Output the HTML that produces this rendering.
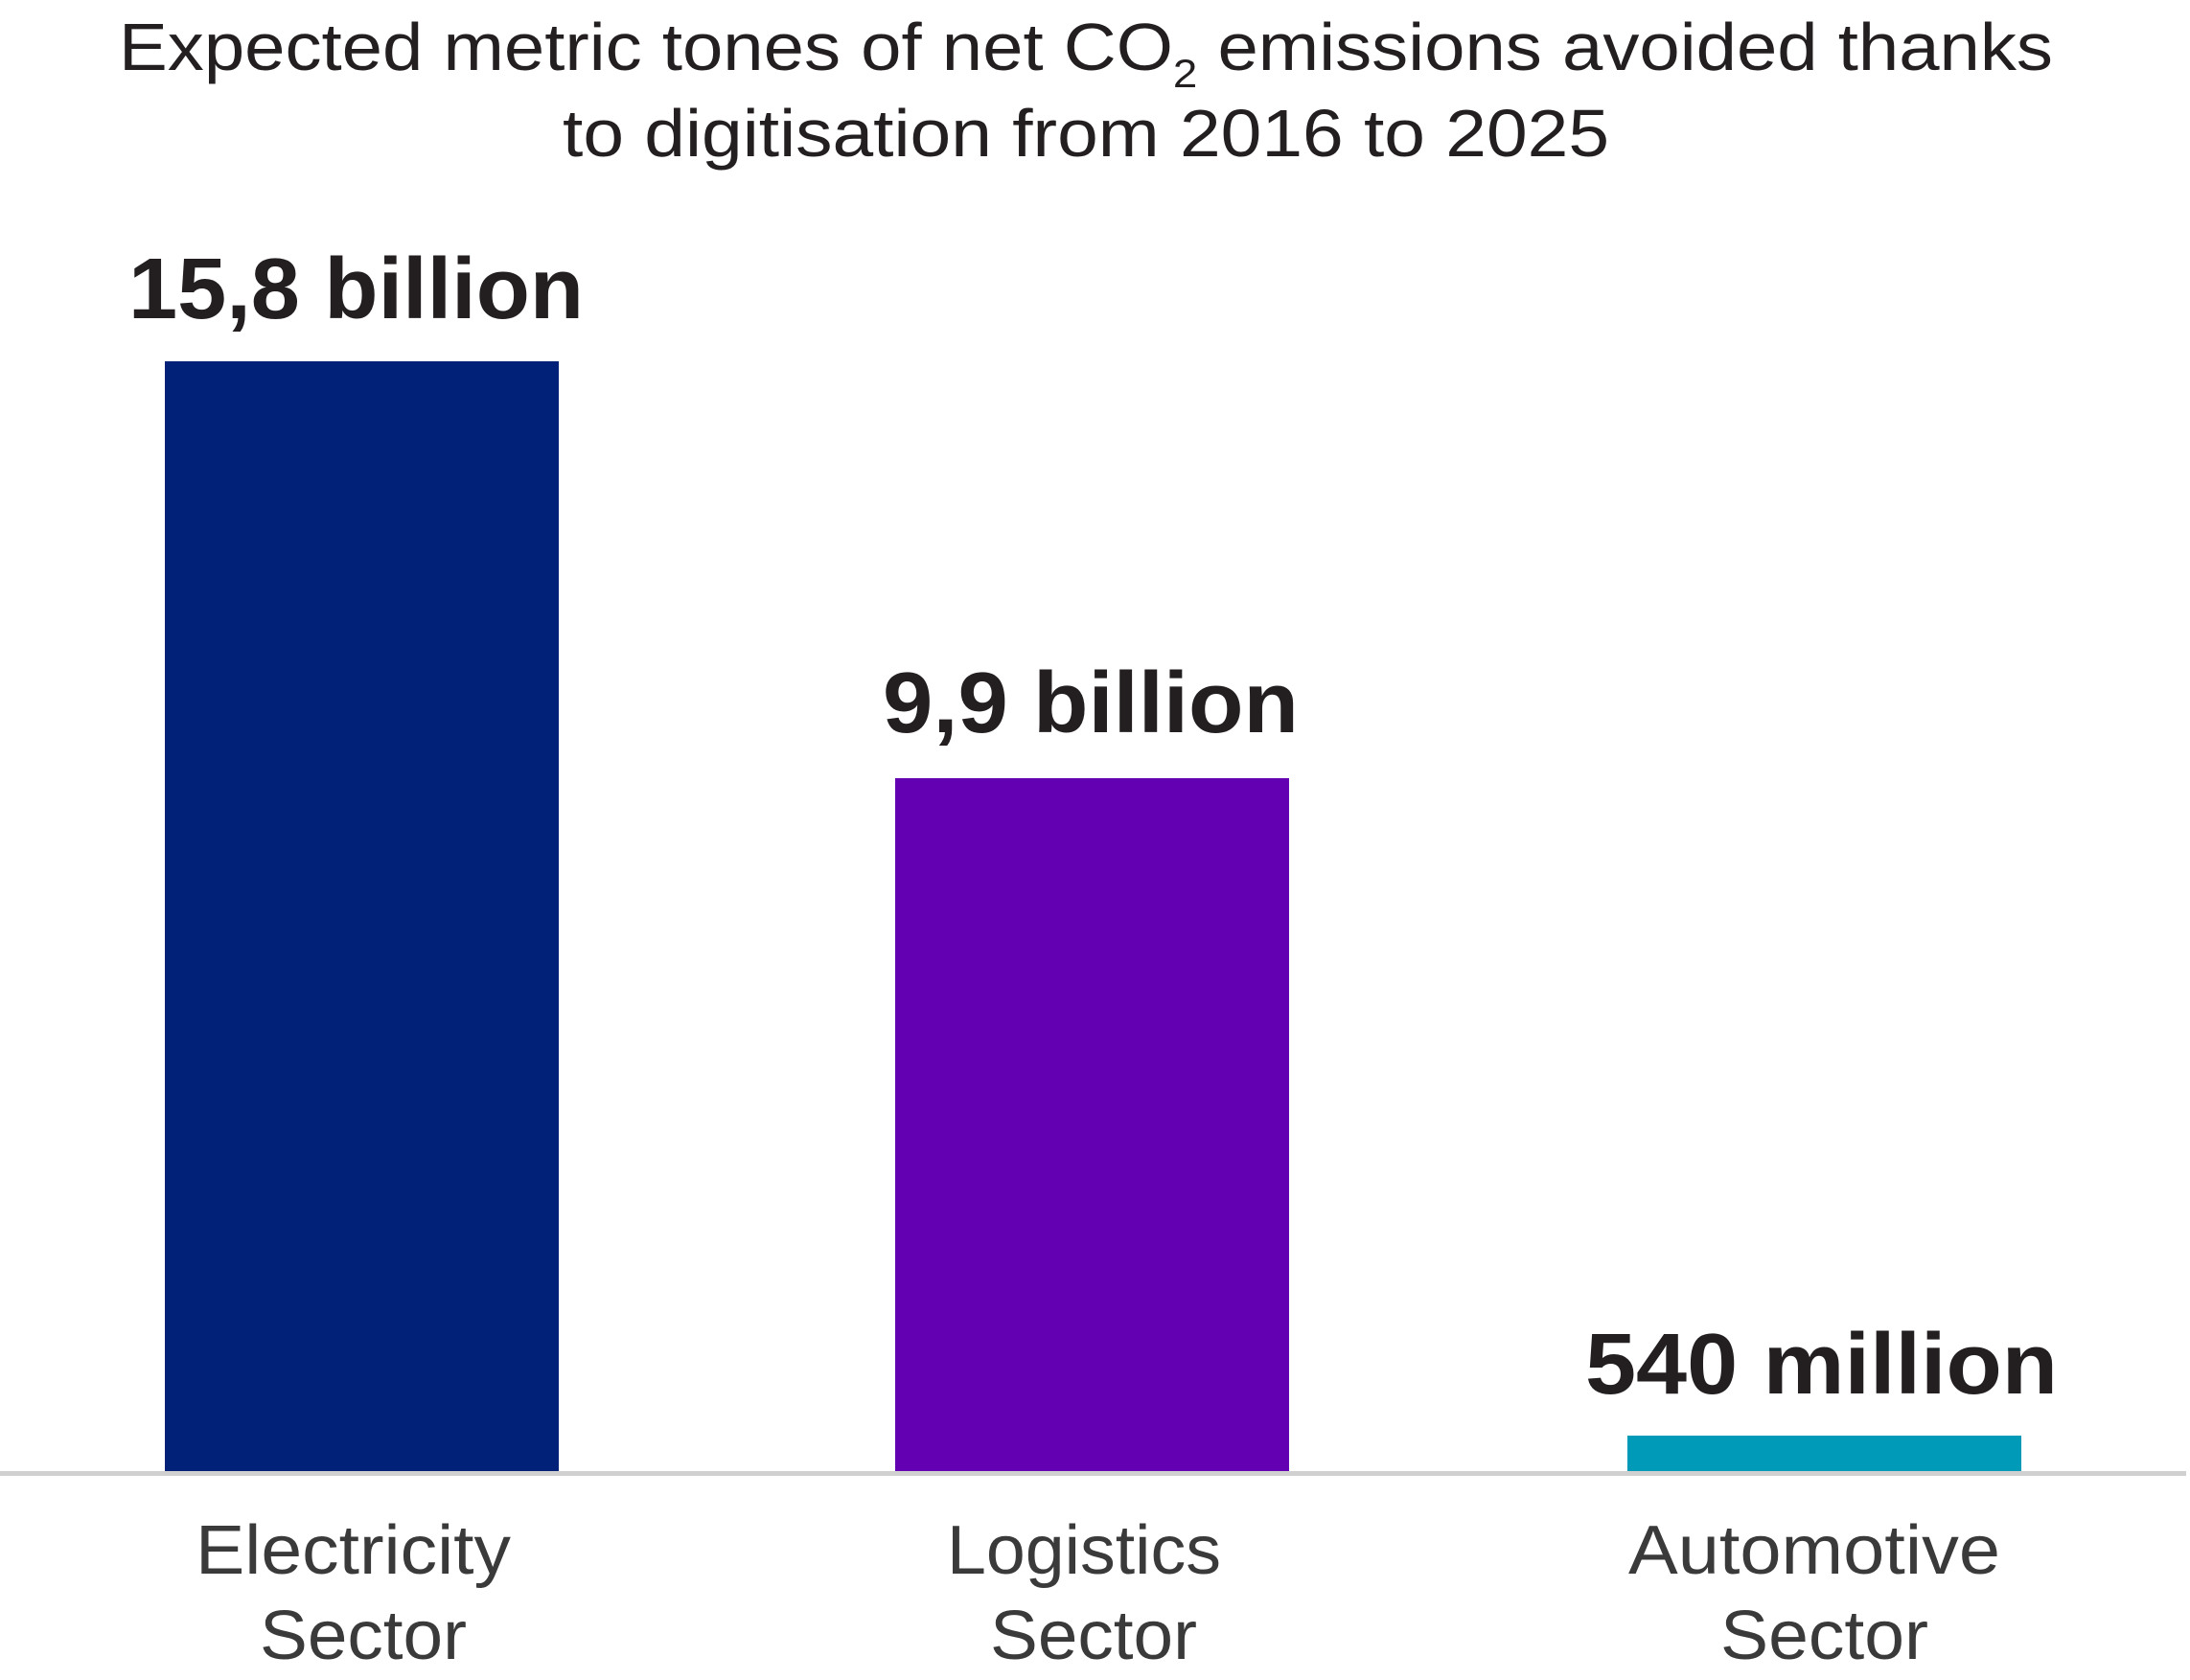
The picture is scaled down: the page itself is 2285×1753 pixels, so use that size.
<!DOCTYPE html>
<html><head><meta charset="utf-8"><style>html,body{margin:0;padding:0;background:#fff}svg{display:block}</style></head>
<body>
<svg width="2285" height="1753" viewBox="0 0 2285 1753" xmlns="http://www.w3.org/2000/svg" font-family="Liberation Sans, sans-serif">
<text x="124" y="73" font-size="70" fill="#231f20" textLength="2018" lengthAdjust="spacingAndGlyphs">Expected metric tones of net CO<tspan font-size="42" dy="18">2</tspan><tspan dy="-18"> emissions avoided thanks</tspan></text>
<text x="587" y="163" font-size="70" fill="#231f20" textLength="1092" lengthAdjust="spacingAndGlyphs">to digitisation from 2016 to 2025</text>
<text x="134" y="332" font-size="90" font-weight="bold" fill="#231f20" textLength="475" lengthAdjust="spacingAndGlyphs">15,8 billion</text>
<text x="921" y="764" font-size="90" font-weight="bold" fill="#231f20" textLength="434" lengthAdjust="spacingAndGlyphs">9,9 billion</text>
<text x="1654" y="1454" font-size="90" font-weight="bold" fill="#231f20" textLength="493" lengthAdjust="spacingAndGlyphs">540 million</text>
<rect x="172" y="377" width="411" height="1160" fill="#002177"/>
<rect x="934" y="812" width="411" height="725" fill="#6300b2"/>
<rect x="1698" y="1498" width="411" height="39" fill="#009ab9"/>
<rect x="0" y="1535" width="2281" height="5" fill="#d0d0d0"/>
<g font-size="72" fill="#3a3a3a">
<text x="204" y="1642" textLength="329" lengthAdjust="spacingAndGlyphs">Electricity</text>
<text x="271" y="1731" textLength="216" lengthAdjust="spacingAndGlyphs">Sector</text>
<text x="988" y="1642" textLength="286" lengthAdjust="spacingAndGlyphs">Logistics</text>
<text x="1033" y="1731" textLength="216" lengthAdjust="spacingAndGlyphs">Sector</text>
<text x="1699" y="1642" textLength="388" lengthAdjust="spacingAndGlyphs">Automotive</text>
<text x="1795" y="1731" textLength="217" lengthAdjust="spacingAndGlyphs">Sector</text>
</g>
</svg>
</body></html>
